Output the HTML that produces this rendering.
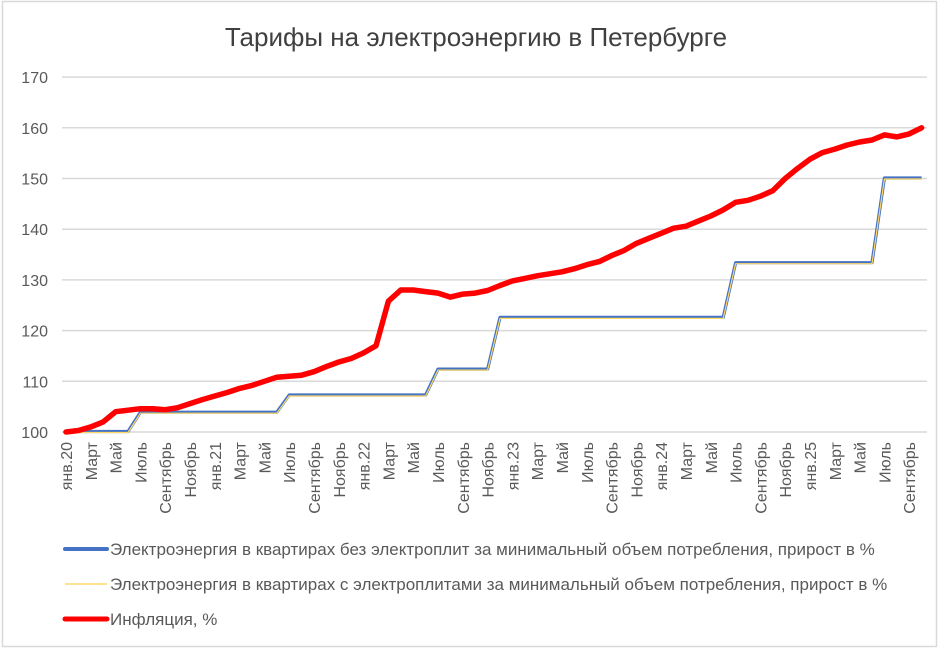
<!DOCTYPE html>
<html><head><meta charset="utf-8"><style>
body{margin:0;background:#fff;width:952px;height:650px;overflow:hidden}
svg{font-family:"Liberation Sans",sans-serif}
</style></head><body>
<svg id="s" width="952" height="650" viewBox="0 0 952 650" xmlns="http://www.w3.org/2000/svg">
<rect x="2.5" y="1.5" width="934" height="645" fill="#fff" stroke="#d9d9d9" stroke-width="1.5"/>
<text x="476" y="46" text-anchor="middle" font-size="26" fill="#404040">Тарифы на электроэнергию  в Петербурге</text>
<g id="grid"></g>
<g id="ylab" font-size="16" fill="#595959" text-anchor="end"></g>
<g id="xlab" font-size="16" fill="#595959" text-anchor="end"></g>
<path id="blue" fill="none" stroke="#4472c4" stroke-width="3.2" stroke-linejoin="round"/>
<path id="yel" fill="none" stroke="#ffd966" stroke-width="1.2" stroke-linejoin="round"/>
<path id="red" fill="none" stroke="#ff0000" stroke-width="5.5" stroke-linejoin="round" stroke-linecap="round"/>
<line x1="65" y1="549" x2="107" y2="549" stroke="#4472c4" stroke-width="4" stroke-linecap="round"/>
<line x1="65" y1="584" x2="107" y2="584" stroke="#ffd966" stroke-width="1.5"/>
<line x1="65" y1="619" x2="107" y2="619" stroke="#ff0000" stroke-width="5" stroke-linecap="round"/>
<g font-size="17" fill="#595959">
<text x="110" y="555">Электроэнергия в квартирах без электроплит за минимальный объем потребления, прирост в %</text>
<text x="110" y="590">Электроэнергия в квартирах с электроплитами за минимальный объем потребления, прирост в %</text>
<text x="110" y="625">Инфляция, %</text>
</g>
</svg>
<script>
var NS="http://www.w3.org/2000/svg";
function X(i){return 66+12.4*i}
function Y(v){return 432-(v-100)*5.07}
var g=document.getElementById('grid'),yl=document.getElementById('ylab'),xl=document.getElementById('xlab');
for(var v=100;v<=170;v+=10){
 var l=document.createElementNS(NS,'line');l.setAttribute('x1',62);l.setAttribute('x2',927);
 l.setAttribute('y1',Y(v));l.setAttribute('y2',Y(v));l.setAttribute('stroke','#d9d9d9');l.setAttribute('stroke-width','1.5');g.appendChild(l);
 var t=document.createElementNS(NS,'text');t.setAttribute('x',48);t.setAttribute('y',Y(v)+6);t.textContent=v;yl.appendChild(t);
}
var mn=['янв.','Март','Май','Июль','Сентябрь','Ноябрь'];
for(var i=0;i<70;i+=2){
 var m=(i%12)/2, yr=20+Math.floor(i/12);
 var s=m==0?'янв.'+yr:mn[m];
 var t=document.createElementNS(NS,'text');
 var x=X(i)+6;t.setAttribute('transform','translate('+x+',442) rotate(-90)');t.textContent=s;xl.appendChild(t);
}
var inf=[100,100.3,101,102,104,104.3,104.6,104.6,104.4,104.8,105.6,106.4,107.1,107.8,108.6,109.2,110,110.8,111,111.2,111.9,112.9,113.8,114.5,115.6,117,125.8,128,128,127.7,127.4,126.6,127.2,127.4,127.9,128.9,129.8,130.3,130.8,131.2,131.6,132.2,133,133.6,134.8,135.8,137.2,138.2,139.2,140.2,140.6,141.6,142.6,143.8,145.3,145.7,146.5,147.6,150,152,153.8,155.1,155.8,156.6,157.2,157.6,158.6,158.2,158.8,160];
var steps=[[5,100],[17,103.8],[29,107.2],[34,112.3],[53,122.5],[65,133.3],[69,150]];
function tar(off){var a=[],prev=0;
 for(var k=0;k<steps.length;k++){var e=steps[k][0],v=steps[k][1];for(var i=prev;i<=e;i++)a.push(v+off);prev=e+1;}
 return a;}
function path(a){return a.map(function(v,i){return (i?'L':'M')+X(i).toFixed(1)+' '+Y(v).toFixed(1)}).join('')}
document.getElementById('blue').setAttribute('d',path(tar(0.1)));
document.getElementById('yel').setAttribute('d',path(tar(-0.1)));
document.getElementById('red').setAttribute('d',path(inf));
</script>
</body></html>
